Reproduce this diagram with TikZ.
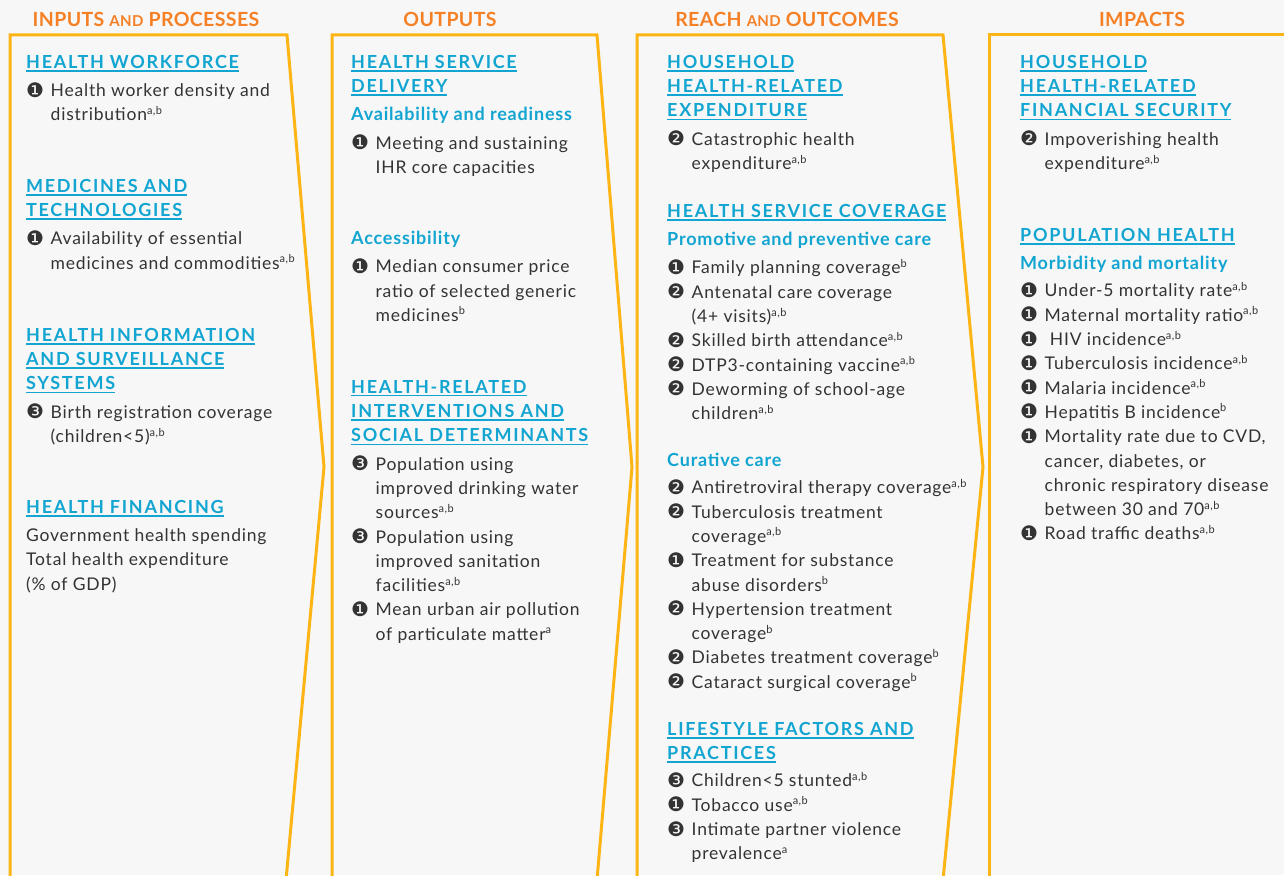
\documentclass[tikz,border=0pt]{standalone}
\usepackage{xcolor}
\usepackage{fontspec}
\setmainfont[LetterSpace=4.5]{Lato}
\newfontfamily\ttlfont[LetterSpace=9.5]{Lato}
\newfontfamily\subfont[LetterSpace=4.5]{Lato}
\newfontfamily\headfont[LetterSpace=2]{Lato}
\newfontfamily\dingfont{DejaVu Sans}
\usepackage{tikz}
\usetikzlibrary{positioning}

\definecolor{bgC}{HTML}{F7F7F7}
\definecolor{frameC}{HTML}{FDB515}
\definecolor{headC}{HTML}{F58025}
\definecolor{cyanC}{HTML}{12A5D1}
\definecolor{textC}{HTML}{333333}

\newcommand{\ttl}[1]{{\ttlfont\bfseries\fontsize{18}{24.3}\selectfont\color{cyanC}\setbox0\hbox{#1}\rlap{\rule[-3.2pt]{\wd0}{1.4pt}}\box0}}
\newcommand{\subttl}[1]{{\subfont\bfseries\fontsize{18}{24.3}\selectfont\color{cyanC}#1}}
\newcommand{\nb}[1]{\makebox[24.5pt][l]{\dingfont\fontsize{20}{20}\selectfont\raisebox{-0.5pt}{#1}}}
\newcommand{\ct}{\hspace*{24.5pt}}
\newcommand{\supx}[1]{\raisebox{6.5pt}{\fontsize{11}{11}\selectfont #1}}
\newcommand{\ab}{\supx{a,b}}
\newcommand{\sa}{\supx{a}}
\newcommand{\sbb}{\supx{b}}
\newcommand{\hsc}[1]{{\fontsize{15}{15}\selectfont #1}}

\begin{document}
\begin{tikzpicture}[x=1pt,y=-1pt,
    blk/.style={anchor=north west,inner sep=0pt,align=left,text=textC,
      font=\fontsize{17.5}{24.3}\selectfont},
    frame/.style={draw=frameC,line width=3pt,line join=miter},
    head/.style={text=headC,font=\headfont\bfseries\fontsize{19.5}{19.5}\selectfont}]

    % Page
	\fill[bgC] (0,0) rectangle (1284,875);
	\useasboundingbox (0,0) rectangle (1284,875);
	\clip (0,0) rectangle (1284,875);

    % Column frames
	\draw[frame] (10,880) -- (10,35) -- (287,35) -- (324,467) -- (286,880);
	\draw[frame] (332,880) -- (332,35) -- (597,35) -- (632,467) -- (597,880);
	\draw[frame] (637,880) -- (637,35) -- (943,35) -- (983,467) -- (943,880);
	\draw[frame] (989,880) -- (989,35) -- (1290,35);

    % Column heads
	\node [head] at (146,19) (hInputs) {INPUTS \hsc{AND} PROCESSES};
	\node [head] at (450,19) (hOutputs) {OUTPUTS};
	\node [head] at (787,19) (hReach) {REACH \hsc{AND} OUTCOMES};
	\node [head] at (1142,19) (hImpacts) {IMPACTS};

    % Inputs and processes
	\node [blk] at (26,55) (workforce) {\ttl{HEALTH WORKFORCE}\\[4pt]
	  \nb{❶}Health worker density and\\
	  \ct distribution\ab};
	\node [blk] at (26,179) (medicines) {\ttl{MEDICINES AND}\\
	  \ttl{TECHNOLOGIES}\\[4pt]
	  \nb{❶}Availability of essential\\
	  \ct medicines and commodities\ab};
	\node [blk] at (26,328) (hisystems) {\ttl{HEALTH INFORMATION}\\
	  \ttl{AND SURVEILLANCE}\\
	  \ttl{SYSTEMS}\\[4pt]
	  \nb{❸}Birth registration coverage\\
	  \ct (children<5)\ab};
	\node [blk] at (26,500) (financing) {\ttl{HEALTH FINANCING}\\[4pt]
	  Government health spending\\
	  Total health expenditure\\
	  (\% of GDP)};

    % Outputs
	\node [blk] at (351,55) (delivery) {\ttl{HEALTH SERVICE}\\
	  \ttl{DELIVERY}\\[4pt]
	  \subttl{Availability and readiness}\\[4pt]
	  \nb{❶}Meeting and sustaining\\
	  \ct IHR core capacities};
	\node [blk] at (351,231) (access) {\subttl{Accessibility}\\[4pt]
	  \nb{❶}Median consumer price\\
	  \ct ratio of selected generic\\
	  \ct medicines\sbb};
	\node [blk] at (351,380) (determinants) {\ttl{HEALTH-RELATED}\\
	  \ttl{INTERVENTIONS AND}\\
	  \ttl{SOCIAL DETERMINANTS}\\[4pt]
	  \nb{❸}Population using\\
	  \ct improved drinking water\\
	  \ct sources\ab\\
	  \nb{❸}Population using\\
	  \ct improved sanitation\\
	  \ct facilities\ab\\
	  \nb{❶}Mean urban air pollution\\
	  \ct of particulate matter\sa};

    % Reach and outcomes
	\node [blk] at (667,55) (hhexp) {\ttl{HOUSEHOLD}\\
	  \ttl{HEALTH-RELATED}\\
	  \ttl{EXPENDITURE}\\[4pt]
	  \nb{❷}Catastrophic health\\
	  \ct expenditure\ab};
	\node [blk] at (667,204) (coverage) {\ttl{HEALTH SERVICE COVERAGE}\\[4pt]
	  \subttl{Promotive and preventive care}\\[4pt]
	  \nb{❶}Family planning coverage\sbb\\
	  \nb{❷}Antenatal care coverage\\
	  \ct (4+ visits)\ab\\
	  \nb{❷}Skilled birth attendance\ab\\
	  \nb{❷}DTP3-containing vaccine\ab\\
	  \nb{❷}Deworming of school-age\\
	  \ct children\ab};
	\node [blk] at (667,453) (curative) {\subttl{Curative care}\\[3pt]
	  \nb{❷}Antiretroviral therapy coverage\ab\\
	  \nb{❷}Tuberculosis treatment\\
	  \ct coverage\ab\\
	  \nb{❶}Treatment for substance\\
	  \ct abuse disorders\sbb\\
	  \nb{❷}Hypertension treatment\\
	  \ct coverage\sbb\\
	  \nb{❷}Diabetes treatment coverage\sbb\\
	  \nb{❷}Cataract surgical coverage\sbb};
	\node [blk] at (667,722) (lifestyle) {\ttl{LIFESTYLE FACTORS AND}\\
	  \ttl{PRACTICES}\\[3pt]
	  \nb{❸}Children<5 stunted\ab\\
	  \nb{❶}Tobacco use\ab\\
	  \nb{❸}Intimate partner violence\\
	  \ct prevalence\sa};

    % Impacts
	\node [blk] at (1020,55) (finsec) {\ttl{HOUSEHOLD}\\
	  \ttl{HEALTH-RELATED}\\
	  \ttl{FINANCIAL SECURITY}\\[4pt]
	  \nb{❷}Impoverishing health\\
	  \ct expenditure\ab};
	\node [blk] at (1020,228) (pophealth) {\ttl{POPULATION HEALTH}\\[4pt]
	  \subttl{Morbidity and mortality}\\[3pt]
	  \nb{❶}Under-5 mortality rate\ab\\
	  \nb{❶}Maternal mortality ratio\ab\\
	  \nb{❶}\ HIV incidence\ab\\
	  \nb{❶}Tuberculosis incidence\ab\\
	  \nb{❶}Malaria incidence\ab\\
	  \nb{❶}Hepatitis B incidence\sbb\\
	  \nb{❶}Mortality rate due to CVD,\\
	  \ct cancer, diabetes, or\\
	  \ct chronic respiratory disease\\
	  \ct between 30 and 70\ab\\
	  \nb{❶}Road traffic deaths\ab};

\end{tikzpicture}
\end{document}
